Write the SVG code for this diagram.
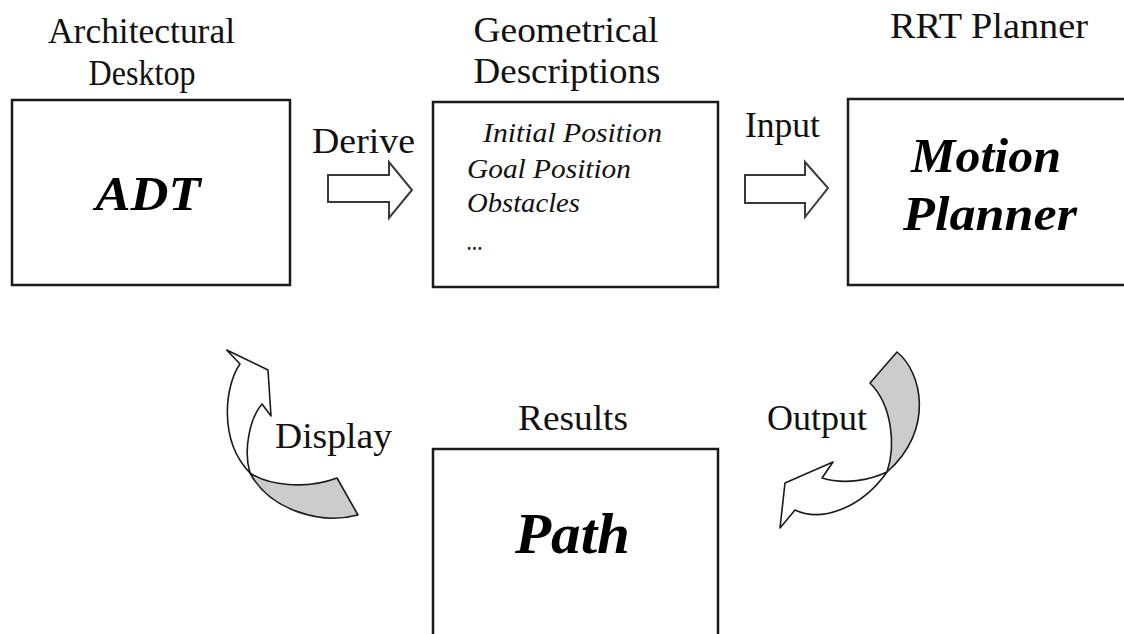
<svg xmlns="http://www.w3.org/2000/svg" width="1124" height="634" viewBox="0 0 1124 634">
  <style>
    .box { fill: #ffffff; stroke: #1a1a1a; stroke-width: 2.5; }
    .lbl { font-family: "Liberation Serif", "Times New Roman", serif; font-size: 36px; fill: #111111; }
    .big { font-family: "Liberation Serif", "Times New Roman", serif; font-weight: bold; font-style: italic; fill: #000000; }
    .item { font-family: "Liberation Serif", "Times New Roman", serif; font-style: italic; font-size: 28px; fill: #111111; }
    .block { fill: #ffffff; stroke: #3a3a3a; stroke-width: 2; stroke-linejoin: miter; }
    .curve { fill: #ffffff; stroke: #1a1a1a; stroke-width: 1.6; stroke-linejoin: round; }
    .back { fill: #cccccc; stroke: #1a1a1a; stroke-width: 1.6; stroke-linejoin: round; }
  </style>
  <rect width="1124" height="634" fill="#ffffff"/>

  <g id="node-adt">
    <text class="lbl" x="141.5" y="43" text-anchor="middle" textLength="187" lengthAdjust="spacingAndGlyphs">Architectural</text>
    <text class="lbl" x="142" y="85" text-anchor="middle" textLength="107" lengthAdjust="spacingAndGlyphs">Desktop</text>
    <rect class="box" x="12" y="100" width="278" height="185"/>
    <text class="big" x="148" y="210" font-size="48" text-anchor="middle" textLength="105" lengthAdjust="spacingAndGlyphs">ADT</text>
  </g>

  <g id="node-geometry">
    <text class="lbl" x="566" y="42" text-anchor="middle" textLength="185" lengthAdjust="spacingAndGlyphs">Geometrical</text>
    <text class="lbl" x="567" y="83" text-anchor="middle" textLength="187" lengthAdjust="spacingAndGlyphs">Descriptions</text>
    <rect class="box" x="433" y="102" width="285" height="185"/>
    <text class="item" x="483" y="142" textLength="179" lengthAdjust="spacingAndGlyphs">Initial Position</text>
    <text class="item" x="467" y="178" textLength="164" lengthAdjust="spacingAndGlyphs">Goal Position</text>
    <text class="item" x="467" y="212" textLength="113" lengthAdjust="spacingAndGlyphs">Obstacles</text>
    <text class="item" x="467" y="250" textLength="16" lengthAdjust="spacingAndGlyphs">...</text>
  </g>

  <g id="node-planner">
    <text class="lbl" x="890" y="38" textLength="198" lengthAdjust="spacingAndGlyphs">RRT Planner</text>
    <rect class="box" x="848" y="99" width="290" height="186"/>
    <text class="big" x="986" y="172" font-size="48" text-anchor="middle" textLength="150" lengthAdjust="spacingAndGlyphs">Motion</text>
    <text class="big" x="990" y="230" font-size="48" text-anchor="middle" textLength="174" lengthAdjust="spacingAndGlyphs">Planner</text>
  </g>

  <g id="node-path">
    <text class="lbl" x="518" y="430" textLength="110" lengthAdjust="spacingAndGlyphs">Results</text>
    <rect class="box" x="433" y="449" width="285" height="200"/>
    <text class="big" x="572.5" y="553" font-size="56" text-anchor="middle" textLength="115" lengthAdjust="spacingAndGlyphs">Path</text>
  </g>

  <g id="connectors">
    <g id="edge-derive">
      <path class="block" d="M328,175 L389,175 L389,162 L412,190 L389,218 L389,202 L328,202 Z"/>
      <text class="lbl" x="312" y="153" textLength="103" lengthAdjust="spacingAndGlyphs">Derive</text>
    </g>
    <g id="edge-input">
      <path class="block" d="M745,175 L805,175 L805,162 L828,188 L805,217 L805,203 L745,203 Z"/>
      <text class="lbl" x="745" y="137" textLength="75" lengthAdjust="spacingAndGlyphs">Input</text>
    </g>
    <g id="edge-output">
      <path class="back" d="M870,383 L897,352 C922,372 935,430 887,472 C896,445 892,405 870,383 Z"/>
      <path class="curve" d="M887,472 C870,480 845,485 822,478 L833,462 L785,483 L780,528 L795,510 C820,522 860,510 887,472 Z"/>
      <text class="lbl" x="767" y="430" textLength="100" lengthAdjust="spacingAndGlyphs">Output</text>
    </g>
    <g id="edge-display">
      <path class="back" d="M250,473 C268,485 305,490 337,478 L358,515 C320,525 270,510 250,473 Z"/>
      <path class="curve" d="M226.7,350 L268,370 L271,416 L262,404 C250,418 243,450 250,473 C218,440 225,385 240,364 Z"/>
      <text class="lbl" x="275" y="448" textLength="117" lengthAdjust="spacingAndGlyphs">Display</text>
    </g>
  </g>
</svg>
